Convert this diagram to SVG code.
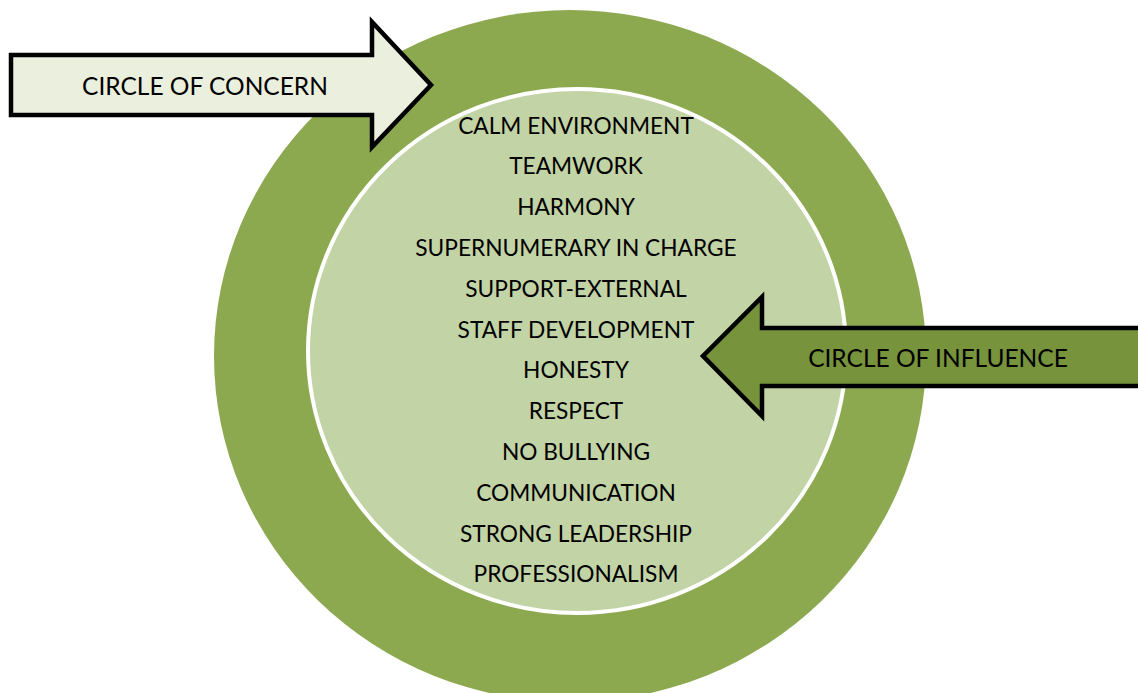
<svg xmlns="http://www.w3.org/2000/svg" width="1138" height="693" viewBox="0 0 1138 693">
<style>
.lbl{font-family:Lato,"Liberation Sans",sans-serif;font-size:22.7px;fill:#000;text-anchor:middle}
.big{font-family:Lato,"Liberation Sans",sans-serif;font-size:24.5px;fill:#000;text-anchor:middle}
.arrow{stroke:#000;stroke-width:4.5;stroke-linejoin:miter}
</style>
<rect width="1138" height="693" fill="#fff"/>
<g id="outer-circle">
<ellipse cx="570" cy="356" rx="356" ry="346" fill="#8DA950"/>
</g>
<g id="inner-circle">
<ellipse cx="577" cy="351" rx="269" ry="262" fill="#C2D3A6" stroke="#fff" stroke-width="4"/>
<text class="lbl" x="576" y="133.5">CALM ENVIRONMENT</text>
<text class="lbl" x="576" y="174.3">TEAMWORK</text>
<text class="lbl" x="576" y="215.1">HARMONY</text>
<text class="lbl" x="576" y="255.9">SUPERNUMERARY IN CHARGE</text>
<text class="lbl" x="576" y="296.7">SUPPORT-EXTERNAL</text>
<text class="lbl" x="576" y="337.5">STAFF DEVELOPMENT</text>
<text class="lbl" x="576" y="378.3">HONESTY</text>
<text class="lbl" x="576" y="419.1">RESPECT</text>
<text class="lbl" x="576" y="459.9">NO BULLYING</text>
<text class="lbl" x="576" y="500.7">COMMUNICATION</text>
<text class="lbl" x="576" y="541.5">STRONG LEADERSHIP</text>
<text class="lbl" x="576" y="582.3">PROFESSIONALISM</text>
</g>
<g id="connectors">
<g id="concern-arrow">
<path class="arrow" d="M11,55 L372,55 L372,22 L431,85 L372,147 L372,115 L11,115 Z" fill="#EBF0DE"/>
<text class="big" x="205" y="95">CIRCLE OF CONCERN</text>
</g>
<g id="influence-arrow">
<path class="arrow" d="M1145,328 L762,328 L762,297 L703,356 L762,416 L762,386 L1145,386 Z" fill="#77933C"/>
<text class="big" x="938" y="367">CIRCLE OF INFLUENCE</text>
</g>
</g>
</svg>
